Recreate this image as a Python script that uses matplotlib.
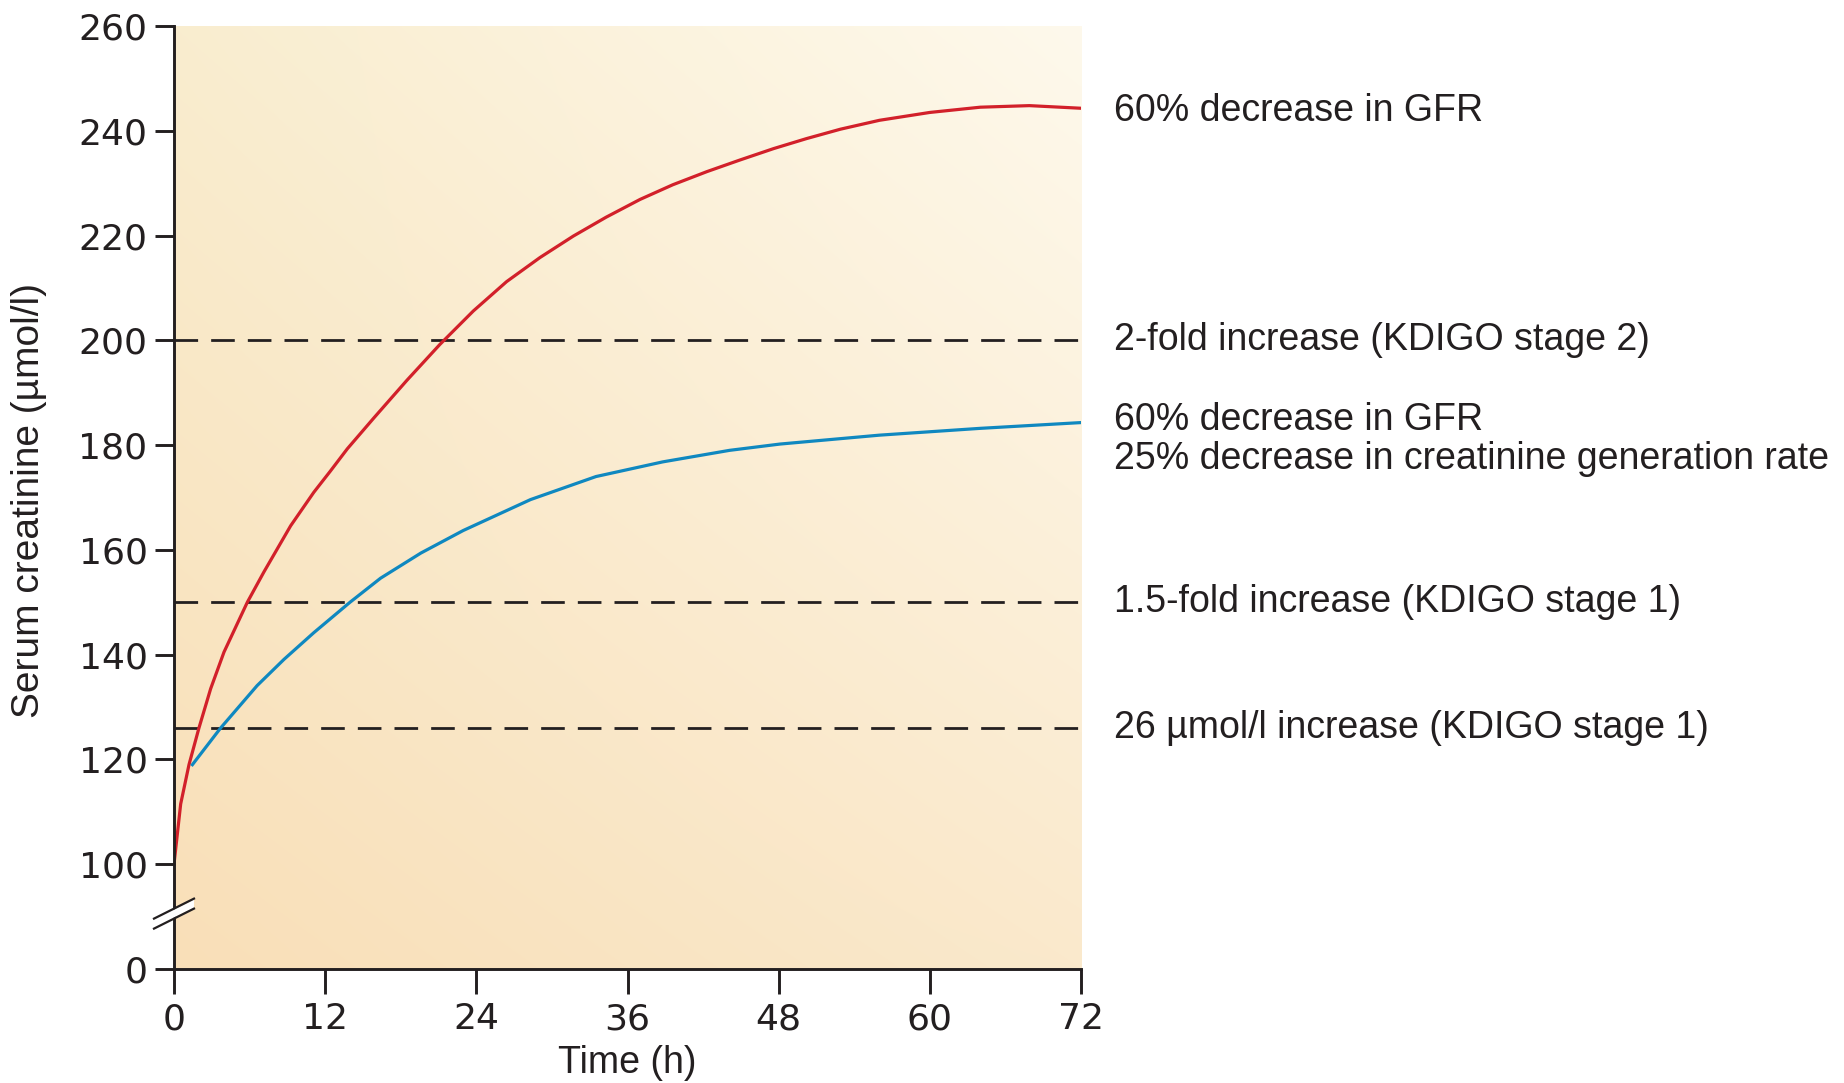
import numpy as np
import matplotlib
matplotlib.use("Agg")
import matplotlib.pyplot as plt
import matplotlib.transforms as mtransforms
from matplotlib.patches import Polygon

# curves (time in h, serum creatinine in umol/l)
red_t = [0, 0.53, 1.19, 1.98, 2.91, 3.97, 5.82, 7.14, 9.26, 11.1, 12.4, 13.76, 15.87, 18.5,
         21.1, 23.76, 26.4, 29.05, 31.7, 34.3, 37.0, 39.6, 42.3, 44.9, 47.6, 50.2, 52.9,
         56.0, 60.0, 64.0, 67.9, 72]
red_v = [100, 111.5, 119, 126, 133.5, 140.5, 150, 155.8, 164.6, 171, 175, 179.3, 185.2, 192.4,
         199.2, 205.6, 211.2, 215.8, 219.9, 223.5, 226.9, 229.7, 232.2, 234.4, 236.6, 238.5, 240.3,
         242.0, 243.5, 244.5, 244.8, 244.3]

blue_t = [1.46, 3.7, 6.6, 8.73, 11.1, 13.97, 16.4, 19.6, 22.96, 28.3, 33.5, 38.8, 44.1,
          48.1, 56.0, 64.0, 72]
blue_v = [119, 126, 134.1, 139.1, 144.2, 150, 154.6, 159.4, 163.7, 169.6, 174.0, 176.8, 179.0,
          180.2, 181.9, 183.2, 184.3]

thresholds = [200, 150, 126]
threshold_labels = ["2-fold increase (KDIGO stage 2)",
                    "1.5-fold increase (KDIGO stage 1)",
                    "26 \u00b5mol/l increase (KDIGO stage 1)"]

x_ticks = [0, 12, 24, 36, 48, 60, 72]
y_ticks = [80, 100, 120, 140, 160, 180, 200, 220, 240, 260]
y_ticklabels = ["0", "100", "120", "140", "160", "180", "200", "220", "240", "260"]

ink = "#231f20"
red = "#d2202a"
blue = "#0f88c0"
label_font = "Liberation Sans"

fig = plt.figure(figsize=(18.44, 10.83), dpi=100)
ax = fig.add_axes([174/1844, 1 - 969/1083, (1081 - 174)/1844, (969 - 26)/1083])

# background gradient, darker peach bottom-left to cream top-right
n = 300
u = np.linspace(0, 1, n)[None, :]
v = np.linspace(0, 1, n)[:, None]
bl = np.array([249, 223, 184]) / 255
tl = np.array([249, 237, 207]) / 255
tr = np.array([254, 249, 236]) / 255
br = np.array([250, 233, 204]) / 255
img = ((1-u)*(1-v))[..., None]*bl + ((1-u)*v)[..., None]*tl + (u*v)[..., None]*tr + (u*(1-v))[..., None]*br
ax.imshow(img, origin="lower", extent=[0, 1, 0, 1], transform=ax.transAxes,
          aspect="auto", zorder=0, interpolation="bilinear")

for th in thresholds:
    ax.plot([0, 72], [th, th], color=ink, lw=2.0, linestyle=(0, (8.5, 4.7)), zorder=2)

ax.plot(red_t, red_v, color=red, lw=2.3, zorder=3, solid_joinstyle="round")
ax.plot(blue_t, blue_v, color=blue, lw=2.3, zorder=3, solid_joinstyle="round")

ax.set_xlim(0, 72)
ax.set_ylim(80, 260)
ax.set_xticks(x_ticks)
ax.set_yticks(y_ticks)
ax.set_yticklabels(y_ticklabels)

for s in ["top", "right"]:
    ax.spines[s].set_visible(False)
for s in ["left", "bottom"]:
    ax.spines[s].set_color(ink)
    ax.spines[s].set_linewidth(2.1)
    ax.spines[s].set_zorder(4)

ax.tick_params(axis="x", length=18, width=2.1, color=ink, labelsize=26, labelcolor=ink, pad=6)
ax.tick_params(axis="y", length=14, width=2.1, color=ink, labelsize=26, labelcolor=ink, pad=5)

fig.text(627/1844, 1 - 1063/1083, "Time (h)", fontsize=27, color=ink, family=label_font,
         ha="center", va="center")
fig.text(29/1844, 1 - 500/1083, "Serum creatinine (\u00b5mol/l)", fontsize=28, color=ink,
         family=label_font, rotation=90, ha="center", va="center")

# right hand annotations
txt = dict(fontsize=27, color=ink, va="center", ha="left", family=label_font,
           textcoords="offset points", annotation_clip=False)
ax.annotate("60% decrease in GFR", xy=(72, red_v[-1]), xytext=(24, -2), **txt)
for th, lab in zip(thresholds, threshold_labels):
    ax.annotate(lab, xy=(72, th), xytext=(24, 0), **txt)
ax.annotate("60% decrease in GFR\n25% decrease in creatinine generation rate",
            xy=(72, 181), xytext=(24, 0), linespacing=1.1, **txt)

# axis break marks on the y axis
trans = fig.dpi_scale_trans + mtransforms.ScaledTranslation(0, 90, ax.transData)
gap = Polygon([[-0.2, -0.11], [0.2, 0.09], [0.2, 0.17], [-0.2, -0.03]], closed=True,
              facecolor="white", edgecolor="none", transform=trans, clip_on=False, zorder=5)
ax.add_patch(gap)
for off in [-0.1, 0.0]:
    ax.plot([-0.2, 0.2], [off - 0.02, off + 0.18], color=ink, lw=1.6, transform=trans,
            clip_on=False, zorder=6)

fig.savefig("out.png", dpi=100)
